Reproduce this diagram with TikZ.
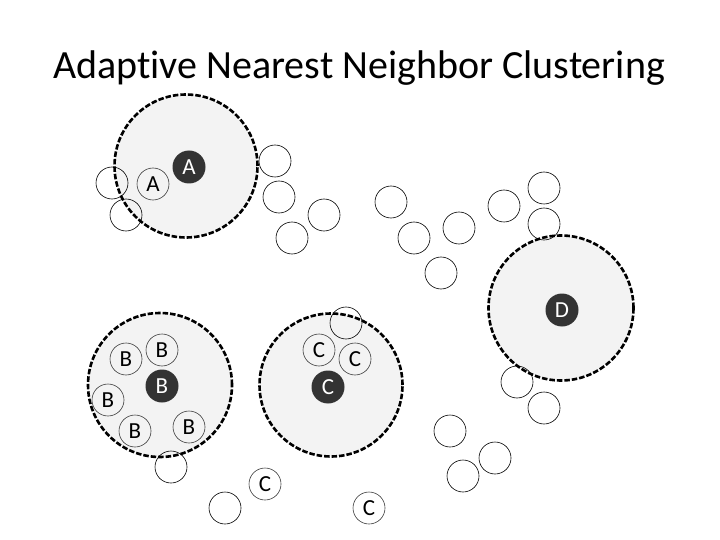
\documentclass[tikz,border=0pt]{standalone}
\usepackage{fontspec}
\setmainfont[Ligatures=NoCommon,Contextuals=NoAlternate]{Carlito}
\begin{document}
\begin{tikzpicture}[x=1bp,y=-1bp,
  cluster/.style={circle,draw=black,fill={rgb,255:red,243;green,243;blue,243},line width=2.6bp,dash pattern=on 5.5bp off 2bp,minimum size=#1,inner sep=0pt},
  cluster/.default=144bp,
  pt/.style={circle,draw=black,line width=0.6bp,minimum size=32bp,inner sep=0pt},
  lab/.style={pt,draw={rgb,255:red,60;green,60;blue,60},font=\fontsize{23bp}{23bp}\selectfont},
  core/.style={circle,fill={rgb,255:red,51;green,51;blue,51},text=white,minimum size=33bp,inner sep=0pt,font=\fontsize{23bp}{23bp}\selectfont}]
\useasboundingbox (0,0) rectangle (720,540);
\node[font=\fontsize{40bp}{44bp}\selectfont,anchor=base] (title) at (359,79) {Adapt\kern0ptive Nearest Neighbor Clustering};
% clusters
\node[cluster=143bp] (cA) at (186,166) {};
\node[cluster=144bp] (cB) at (160,385) {};
\node[cluster=143bp] (cC) at (331,385) {};
\node[cluster=145bp] (cD) at (561,308) {};
% cluster A
\node[core] (a0) at (189,167) {A};
\node[lab] (a1) at (153,184) {A};
% cluster B
\node[core] (b0) at (162,386) {B};
\node[lab] (b1) at (126,359) {B};
\node[lab] (b2) at (162,350) {B};
\node[lab] (b3) at (108,400) {B};
\node[lab] (b4) at (135,431) {B};
\node[lab] (b5) at (189,427) {B};
% cluster C
\node[core] (c0) at (328,387) {C};
\node[lab] (c1) at (319,350) {C};
\node[lab] (c2) at (355,359) {C};
\node[lab] (c3) at (265,484) {C};
\node[lab] (c4) at (369,508) {C};
% cluster D
\node[core] (d0) at (562,310) {D};
% unlabelled points
\node[pt] (p1) at (112,183) {};
\node[pt] (p2) at (126,215) {};
\node[pt] (p3) at (275,161) {};
\node[pt] (p4) at (279,197) {};
\node[pt] (p5) at (324,215) {};
\node[pt] (p6) at (292,238) {};
\node[pt] (p7) at (391,202) {};
\node[pt] (p8) at (414,238) {};
\node[pt] (p9) at (459,228) {};
\node[pt] (p10) at (441,273) {};
\node[pt] (p11) at (504,206) {};
\node[pt] (p12) at (544,188) {};
\node[pt] (p13) at (544,224) {};
\node[pt] (p14) at (517,382) {};
\node[pt] (p15) at (544,408) {};
\node[pt] (p16) at (450,431) {};
\node[pt] (p17) at (495,458) {};
\node[pt] (p18) at (463,476) {};
\node[pt] (p19) at (171,467) {};
\node[pt] (p20) at (225,508) {};
\node[pt] (p21) at (346,323) {};
\end{tikzpicture}
\end{document}
